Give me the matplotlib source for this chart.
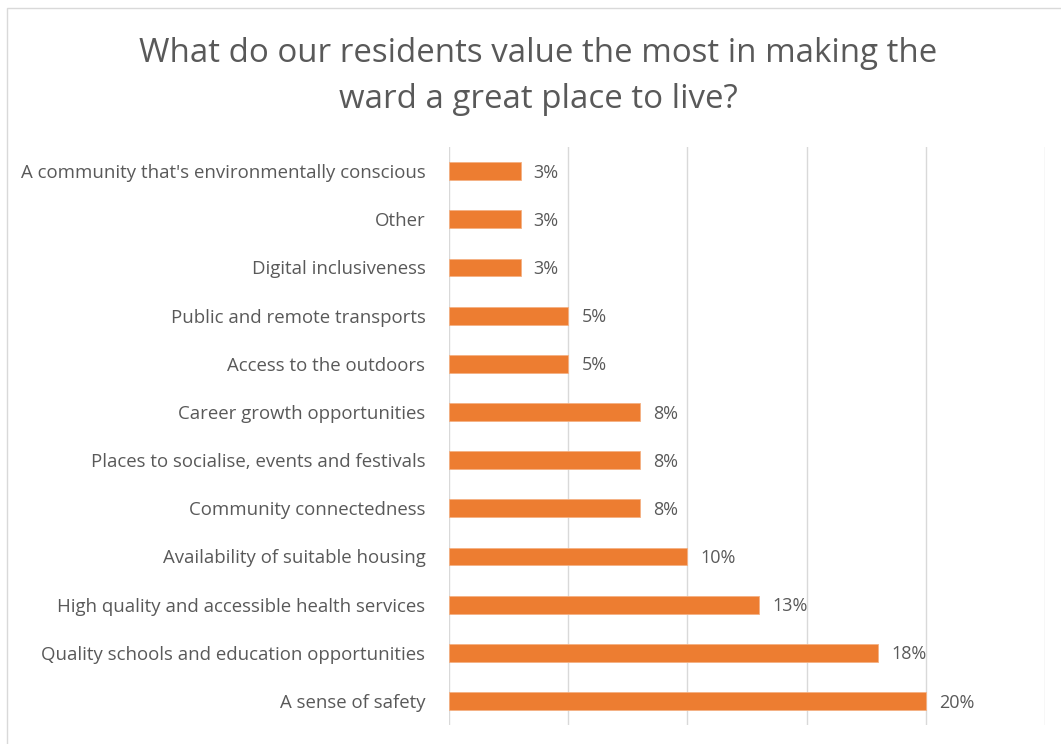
import matplotlib
matplotlib.use("Agg")
import matplotlib.pyplot as plt
from matplotlib.patches import Rectangle

categories = [
    "A community that's environmentally conscious",
    "Other",
    "Digital inclusiveness",
    "Public and remote transports",
    "Access to the outdoors",
    "Career growth opportunities",
    "Places to socialise, events and festivals",
    "Community connectedness",
    "Availability of suitable housing",
    "High quality and accessible health services",
    "Quality schools and education opportunities",
    "A sense of safety",
]
values = [3, 3, 3, 5, 5, 8, 8, 8, 10, 13, 18, 20]
title = "What do our residents value the most in making the\nward a great place to live?"

BAR = "#ED7D31"
TEXT = "#595959"
GRID = "#D9D9D9"

plt.rcParams["font.family"] = ["Open Sans", "DejaVu Sans"]

fig = plt.figure(figsize=(10.61, 7.44), dpi=100)
ax = fig.add_axes([0.4232, 0.0255, 0.5617, 0.7769])

ypos = list(range(len(categories)))
ax.barh(ypos, values, height=0.37, color=BAR, edgecolor="#F4B183", linewidth=0.6, zorder=3)
for y, v in zip(ypos, values):
    ax.annotate(f"{v}%", (v, y), xytext=(9.5, -1.2), textcoords="offset points",
                va="center", ha="left", color=TEXT, fontsize=13)

ax.set_xlim(0, 25)
ax.set_ylim(len(categories) - 0.5, -0.5)
ax.set_xticks([0, 5, 10, 15, 20, 25])
ax.xaxis.grid(True, color=GRID, linewidth=1, zorder=0)
ax.tick_params(axis="x", length=0, labelbottom=False)
ax.set_yticks(ypos)
ax.set_yticklabels(categories, color=TEXT, fontsize=13.4)
ax.tick_params(axis="y", length=0, pad=17)
for s in ax.spines.values():
    s.set_visible(False)

fig.text(0.507, 0.897, title, ha="center", va="center", fontsize=23.8,
         color=TEXT, linespacing=1.5)

fig.patches.append(Rectangle((0.0066, -0.01), 1.0, 0.999, transform=fig.transFigure,
                             fill=False, edgecolor=GRID, linewidth=1))

fig.savefig("out.png", dpi=100, facecolor="white")
